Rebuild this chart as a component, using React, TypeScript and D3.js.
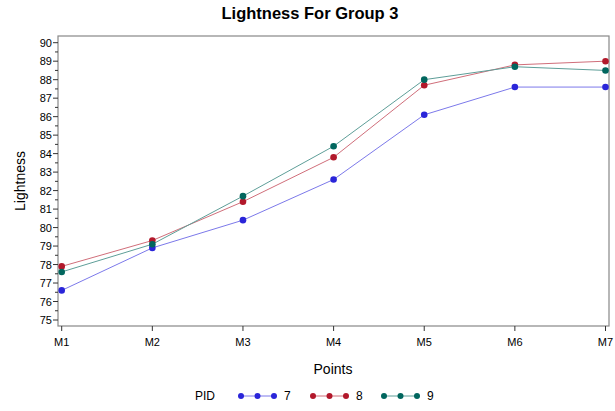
import React from "react";
import * as d3 from "d3";

const categories = ["M1", "M2", "M3", "M4", "M5", "M6", "M7"];
const pid7 = [76.6, 78.9, 80.4, 82.6, 86.1, 87.6, 87.6];
const pid8 = [77.9, 79.3, 81.4, 83.8, 87.7, 88.8, 89.0];
const pid9 = [77.6, 79.1, 81.7, 84.4, 88.0, 88.7, 88.5];
const seriesNames = ["7", "8", "9"];
const yTicks = [75, 76, 77, 78, 79, 80, 81, 82, 83, 84, 85, 86, 87, 88, 89, 90];

const colors = ["#2A25D9", "#B2182B", "#01665E"];
const lineColors = ["#7C79EA", "#D06E7A", "#5E9E98"];

export default function App() {
  const W = 615, H = 411;
  const left = 58, right = 609, top = 36, bottom = 326;
  const x = d3.scalePoint<string>().domain(categories).range([61.7, 605.5]);
  const y = d3.scaleLinear().domain([75, 90]).range([320, 42.7]);
  const data = [pid7, pid8, pid9];
  const line = d3.line<number>().x((_, i) => x(categories[i]) as number).y((d) => y(d));
  const minor = d3.range(75.5, 90, 1);
  const font = "'Liberation Sans', Arial, sans-serif";

  const legendX = [241, 313, 384];
  return (
    <svg width={W} height={H} style={{ position: "absolute", left: 0, top: 0 }} fontFamily={font}>
      <rect width={W} height={H} fill="#fff" />
      <text x={310} y={19} textAnchor="middle" fontSize={16.5} fontWeight="bold" fill="#000">
        Lightness For Group 3
      </text>
      <rect x={left} y={top} width={right - left} height={bottom - top} fill="none" stroke="#888" strokeWidth={1.2} />
      {yTicks.map((t) => (
        <g key={t}>
          <line x1={left - 5} x2={left} y1={y(t)} y2={y(t)} stroke="#333" />
          <text x={left - 6} y={y(t) + 4} textAnchor="end" fontSize={11} fill="#000">{t}</text>
        </g>
      ))}
      {minor.map((t) => (
        <line key={t} x1={left - 3} x2={left} y1={y(t)} y2={y(t)} stroke="#333" />
      ))}
      {categories.map((c) => (
        <g key={c}>
          <line x1={x(c)} x2={x(c)} y1={bottom} y2={bottom + 5} stroke="#333" />
          <text x={x(c)} y={bottom + 20} textAnchor="middle" fontSize={11} fill="#000">{c}</text>
        </g>
      ))}
      <text x={333} y={374} textAnchor="middle" fontSize={14} fill="#000">Points</text>
      <text transform={`translate(25,181) rotate(-90)`} textAnchor="middle" fontSize={14} fill="#000">Lightness</text>
      {data.map((s, i) => (
        <g key={i}>
          <path d={line(s) || ""} fill="none" stroke={lineColors[i]} strokeWidth={1} />
        </g>
      ))}
      {data.map((s, i) => (
        <g key={"m" + i}>
          {s.map((v, j) => (
            <circle key={j} cx={x(categories[j])} cy={y(v)} r={3.3} fill={colors[i]} />
          ))}
        </g>
      ))}
      <text x={195} y={400} fontSize={12} fill="#000">PID</text>
      {seriesNames.map((n, i) => (
        <g key={n}>
          <line x1={legendX[i]} x2={legendX[i] + 33} y1={396} y2={396} stroke={lineColors[i]} strokeWidth={1} />
          {[0, 16.5, 33].map((dx) => (
            <circle key={dx} cx={legendX[i] + dx} cy={396} r={3} fill={colors[i]} />
          ))}
          <text x={legendX[i] + 43} y={400} fontSize={12} fill="#000">{n}</text>
        </g>
      ))}
    </svg>
  );
}
